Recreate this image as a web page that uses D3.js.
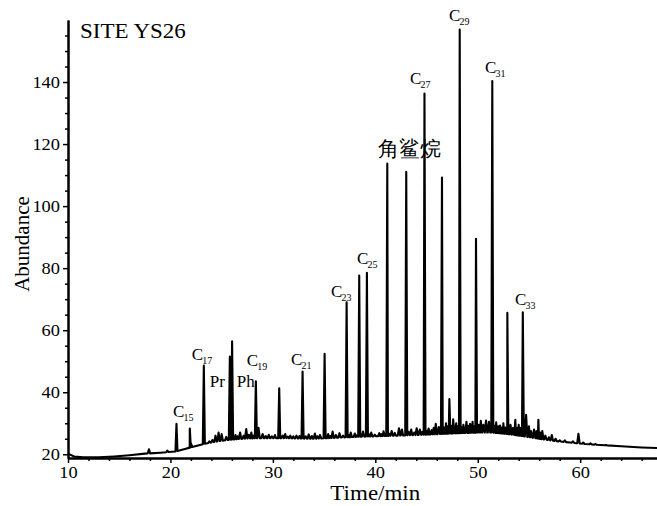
<!DOCTYPE html>
<html><head><meta charset="utf-8">
<script src="https://cdn.jsdelivr.net/npm/d3@7"></script>
<style>
body{margin:0;background:#fff}
svg{display:block}
text{font-family:"Liberation Serif","Times New Roman",serif;fill:#000}
</style>
</head><body>
<svg id="chart" width="657" height="506"></svg>
<script>
// ---------- data ----------
const xTickValues = [10, 20, 30, 40, 50, 60];
const yTickValues = [20, 40, 60, 80, 100, 120, 140];
const chartTitle = "SITE YS26";
const xTitle = "Time/min";
const yTitle = "Abundance";

// baseline of the chromatogram [time (min), abundance]
const baseline = [
  [10,20.2],[10.6,19.3],[11.5,19.0],[13,19.0],[14.5,19.3],[16,19.7],[17.5,20.2],
  [19,20.5],[20.5,20.9],[21.5,21.8],[22.5,22.7],[23.5,23.5],[24.5,24.1],[25.5,24.6],
  [27,25.0],[28.5,25.2],[31,25.2],[34,25.0],[36,25.3],[38,25.6],[40,25.8],[42,26.0],
  [44,26.2],[46,26.5],[48,26.8],[50,27.0],[51.5,27.0],[53,26.5],[54.5,25.8],[56,25.0],
  [57.5,24.3],[59,23.8],[60.5,23.3],[62,23.0],[64,22.6],[66,22.2],[67.5,22.0]
];

// main peaks [time, apex abundance]
const majorPeaks = [
  [20.59,29.8],[21.89,28.3],[23.26,48.6],[25.80,51.5],[26.02,56.4],[28.34,43.5],
  [30.62,41.3],[32.90,46.7],[35.05,52.4],[37.20,69.0],[38.43,77.6],[39.18,78.5],
  [41.17,113.7],[43.02,111.1],[44.80,136.3],[46.51,109.2],[47.23,37.8],[48.24,156.9],
  [49.83,89.5],[51.42,140.3],[52.89,65.6],[54.40,65.8]
];

// small peaks [time, apex abundance]
const minorPeaks = [
  [17.9,21.6],[19.7,21.2],[22.0,23.6],[23.8,24.2],[24.1,24.6],[24.4,26.0],[24.7,27.0],
  [25.0,26.5],[25.45,25.6],[26.35,26.2],[26.55,25.8],[26.8,27.0],[27.15,26.0],[27.4,28.1],
  [27.65,26.3],[27.9,27.0],[28.1,26.0],[28.6,28.5],[29.0,26.5],[29.3,25.9],[29.6,26.3],
  [29.9,25.8],[30.2,26.2],[30.95,26.0],[31.2,26.5],[31.45,25.7],[31.7,26.0],[32.0,25.8],
  [32.3,26.0],[32.6,25.9],[33.2,25.8],[33.5,26.4],[33.8,25.9],[34.1,26.7],[34.35,25.8],
  [34.6,26.2],[35.4,26.5],[35.6,25.9],[35.83,27.3],[36.15,26.2],[36.5,26.8],[36.85,26.0],
  [37.45,26.3],[37.6,27.0],[38.0,26.7],[38.2,26.1],[38.8,27.3],[39.4,26.4],[39.6,27.0],
  [39.95,26.3],[40.39,26.8],[40.6,26.5],[40.8,27.4],[41.35,26.6],[41.6,27.5],[41.9,26.9],
  [42.31,28.4],[42.6,28.0],[43.25,27.2],[43.5,28.0],[43.8,27.0],[44.04,28.4],[44.35,28.0],
  [44.6,27.2],[45.05,27.6],[45.2,28.3],[45.5,27.8],[45.7,28.5],[45.9,29.8],[46.2,28.8],
  [46.7,28.6],[46.9,30.0],[47.05,29.0],[47.45,29.2],[47.6,31.3],[47.9,30.0],[48.05,29.0],
  [48.45,28.8],[48.6,29.5],[48.9,30.5],[49.1,29.2],[49.25,29.8],[49.5,30.5],[49.65,29.0],
  [50.1,29.5],[50.3,30.8],[50.55,29.5],[50.81,30.9],[51.1,30.5],[51.65,29.2],[51.8,30.3],
  [52.0,29.0],[52.18,29.3],[52.35,28.6],[52.5,30.0],[52.7,28.6],[53.0,28.8],[53.2,29.5],
  [53.45,28.5],[53.67,31.1],[53.85,28.5],[54.0,29.5],[54.2,28.5],[54.72,32.7],[55.0,29.0],
  [55.2,27.5],[55.5,28.0],[55.75,27.5],[55.92,31.1],[56.1,27.0],[56.3,27.5],[56.6,26.0],
  [56.95,25.5],[57.23,26.2],[57.6,25.0],[58.0,24.5],[58.5,24.5],[59.3,24.2],[59.83,26.6],
  [60.3,23.8],[61.0,23.5],[61.5,23.3],[62.5,23.0]
];

// n-alkane labels: carbon number, anchor [time, abundance]
const carbonNumbers = ["15","17","19","21","23","25","27","29","31","33"];
const carbonAnchorTime = [20.25,22.08,27.46,31.76,35.67,38.21,43.39,47.20,50.71,53.64];
const carbonAnchorValue = [32.05,50.47,48.53,48.85,70.82,81.49,139.3,159.8,142.9,68.27];

const otherLabels = ["Pr","Ph","角鲨烷"];
const otherAnchorTime = [23.84,26.48,40.25];
const otherAnchorValue = [41.75,41.75,116.06];

// ---------- drawing ----------
const svg = d3.select("#chart");
const x = d3.scaleLinear().domain([10, 67.5]).range([68, 657]);
const y = d3.scaleLinear().domain([18.8, 160]).range([458, 20]);
const baseAt = d3.scaleLinear().domain(baseline.map(d=>d[0])).range(baseline.map(d=>d[1]));

// build trace
const wMajor = 0.1, wMinor = 0.12;
const peaks = majorPeaks.map(p=>[p[0],p[1],wMajor]).concat(minorPeaks.map(p=>[p[0],p[1],wMinor]));
let pts = baseline.filter(b => !peaks.some(p => Math.abs(b[0]-p[0]) <= p[2])).map(b=>[b[0],b[1]]);
peaks.forEach(p => {
  pts.push([p[0]-p[2], baseAt(p[0]-p[2])]);
  pts.push([p[0], p[1]]);
  pts.push([p[0]+p[2], baseAt(p[0]+p[2])]);
});
pts.sort((a,b)=>a[0]-b[0]);

svg.append("path")
  .datum(pts)
  .attr("fill","none")
  .attr("stroke","#000")
  .attr("stroke-width",2.1)
  .attr("stroke-linejoin","round")
  .attr("d", d3.line().x(d=>x(d[0])).y(d=>y(d[1])));

// axes
const SX = 1.15;
const yAxis = svg.append("g").attr("transform","translate(68,0)")
  .call(d3.axisLeft(y).tickValues(yTickValues).tickSize(5).tickSizeOuter(0).tickPadding(3));
const yMinor = d3.range(25,160,5).filter(v=>v%20!==0);
svg.append("g").attr("transform","translate(68,0)")
  .call(d3.axisLeft(y).tickValues(yMinor).tickSize(3).tickSizeOuter(0).tickFormat(""));

const xAxis = svg.append("g").attr("transform","translate(0,458)")
  .call(d3.axisBottom(x).tickValues(xTickValues).tickSize(5).tickSizeOuter(0).tickPadding(4));
const xMinor = d3.range(12,68,2).filter(v=>v%10!==0);
svg.append("g").attr("transform","translate(0,458)")
  .call(d3.axisBottom(x).tickValues(xMinor).tickSize(3).tickSizeOuter(0).tickFormat(""));

svg.selectAll(".domain").attr("stroke","#000").attr("stroke-width",2);
svg.selectAll(".tick line").attr("stroke","#000").attr("stroke-width",1.5);
svg.selectAll(".tick text").attr("font-family","Liberation Serif, serif").attr("font-size",16).attr("fill","#000");
yAxis.selectAll(".tick text").each(function(){
  const t = d3.select(this);
  const xx = +t.attr("x");
  t.attr("x",null).attr("dy","0.34em").attr("transform",`translate(${xx},0) scale(${SX},1)`);
});
xAxis.selectAll(".tick text").each(function(){
  const t = d3.select(this);
  const yy = +t.attr("y");
  t.attr("y",null).attr("dy","0.71em").attr("transform",`translate(0,${yy}) scale(${SX},1)`);
});

// titles
svg.append("text").attr("transform",`translate(80,38) scale(${SX},1)`)
  .attr("font-size",20).text(chartTitle);
svg.append("text").attr("transform",`translate(${x(40)},500) scale(${SX},1)`)
  .attr("text-anchor","middle").attr("font-size",20).text(xTitle);
svg.append("text").attr("transform","translate(29,244) rotate(-90)")
  .attr("text-anchor","middle").attr("font-size",21).text(yTitle);

// carbon number labels
carbonNumbers.forEach((n,i)=>{
  const lx = x(carbonAnchorTime[i]), ly = y(carbonAnchorValue[i]);
  svg.append("text").attr("x",lx).attr("y",ly).attr("font-size",17).text("C");
  svg.append("text").attr("x",lx+10.5).attr("y",ly+4).attr("font-size",10).text(n);
});
otherLabels.forEach((s,i)=>{
  const lx = x(otherAnchorTime[i]), ly = y(otherAnchorValue[i]);
  const isCJK = /[\u4e00-\u9fff]/.test(s);
  svg.append("text").attr("x",lx).attr("y",ly)
    .attr("font-size", isCJK ? 21 : 17)
    .attr("font-family", isCJK ? "Noto Sans CJK SC, sans-serif" : null)
    .attr("font-weight", isCJK ? 300 : null)
    .text(s);
});
</script>
</body></html>
